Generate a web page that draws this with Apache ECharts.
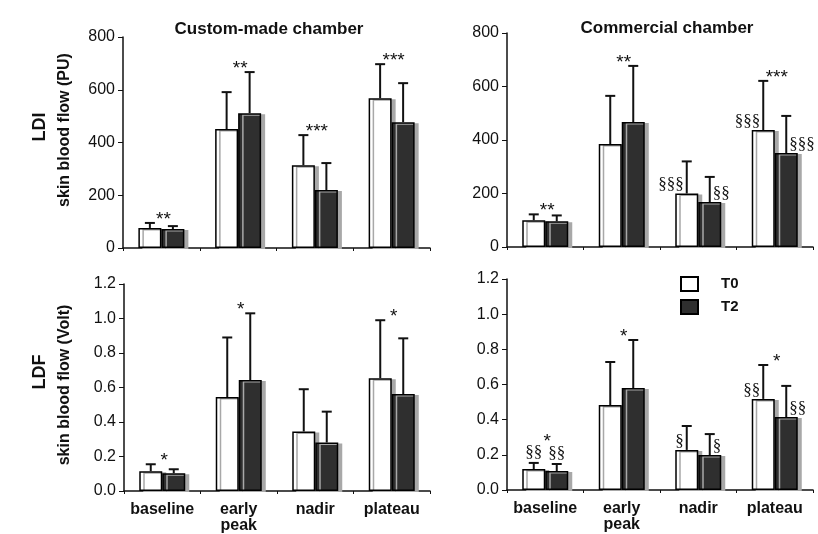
<!DOCTYPE html>
<html>
<head>
<meta charset="utf-8">
<script src="https://cdn.jsdelivr.net/npm/echarts/dist/echarts.min.js"></script>
<style>
    html, body { margin: 0; padding: 0; background: #fff; }
    #chart { width: 818px; height: 534px; }
</style>
</head>
<body>
<div id="chart"></div>
<script>
    // categories
    const phases = ['baseline', 'early\npeak', 'nadir', 'plateau'];
    const ldiTicks = [0, 200, 400, 600, 800];
    const ldfTicks = ['0.0', '0.2', '0.4', '0.6', '0.8', '1.0', '1.2'];

    // LDI, custom-made chamber (PU)
    const ldiCustomT0 = [76, 451, 314, 568];
    const ldiCustomT0Sd = [19, 140, 114, 129];
    const ldiCustomT2 = [72, 511, 220, 477];
    const ldiCustomT2Sd = [11, 156, 102, 148];
    // LDI, commercial chamber (PU)
    const ldiCommT0 = [100, 385, 200, 437];
    const ldiCommT0Sd = [22, 180, 120, 184];
    const ldiCommT2 = [96, 467, 168, 351];
    const ldiCommT2Sd = [22, 210, 94, 139];
    // LDF, custom-made chamber (Volt)
    const ldfCustomT0 = [0.115, 0.545, 0.345, 0.654];
    const ldfCustomT0Sd = [0.04, 0.345, 0.245, 0.336];
    const ldfCustomT2 = [0.103, 0.643, 0.281, 0.562];
    const ldfCustomT2Sd = [0.023, 0.387, 0.179, 0.323];
    // LDF, commercial chamber (Volt)
    const ldfCommT0 = [0.119, 0.483, 0.228, 0.518];
    const ldfCommT0Sd = [0.035, 0.245, 0.136, 0.193];
    const ldfCommT2 = [0.108, 0.58, 0.199, 0.415];
    const ldfCommT2Sd = [0.04, 0.273, 0.119, 0.177];

    // significance marks
    const ldiCustomStars = ['**', '**', '***', '***'];
    const ldiCommStars = ['**', '**', '', '***'];
    const ldiCommSecT0 = ['', '', '§§§', '§§§'];
    const ldiCommSecT2 = ['', '', '§§', '§§§'];
    const ldfCustomStars = ['*', '*', '', '*'];
    const ldfCommStars = ['*', '*', '', '*'];
    const ldfCommSecT0 = ['§§', '', '§', '§§'];
    const ldfCommSecT2 = ['§§', '', '§', '§§'];
    const none = ['', '', '', ''];

    const BAR_W = 23;
    const INK = '#111';

    var chart = echarts.init(document.getElementById('chart'));

    function xAxis(gi, showLabel) {
        return {
            type: 'category',
            gridIndex: gi,
            data: phases,
            axisLine: {lineStyle: {color: INK, width: 1.5}},
            axisTick: {show: true, length: 3, lineStyle: {color: INK}},
            axisLabel: {
                show: showLabel,
                interval: 0,
                color: INK,
                fontWeight: 'bold',
                fontSize: 16,
                fontFamily: 'Liberation Sans',
                lineHeight: 16,
                margin: 11
            },
            splitLine: {show: false}
        };
    }

    function yAxis(gi, max, interval, decimals) {
        return {
            type: 'value',
            gridIndex: gi,
            min: 0,
            max: max,
            interval: interval,
            axisLine: {show: true, lineStyle: {color: INK, width: 1.5}},
            axisTick: {show: true, length: 5, lineStyle: {color: INK}},
            axisLabel: {
                color: INK,
                fontSize: 16,
                fontFamily: 'Liberation Sans',
                margin: 8,
                formatter: function (v) { return decimals ? v.toFixed(decimals) : String(v); }
            },
            splitLine: {show: false}
        };
    }

    function bars(gi, name, data, color) {
        return {
            name: name,
            type: 'bar',
            xAxisIndex: gi,
            yAxisIndex: gi,
            data: data,
            barWidth: BAR_W,
            barGap: '0%',
            itemStyle: {
                color: color,
                borderColor: '#000',
                borderWidth: 1.5,
                shadowColor: '#a8a8a8',
                shadowOffsetX: 4,
                shadowOffsetY: 1,
                shadowBlur: 0
            },
            emphasis: {disabled: true}
        };
    }

    function txt(x, y, s, align, vAlign, font) {
        return {
            type: 'text',
            x: x, y: y,
            style: {
                text: s, fill: INK, font: font,
                align: align, verticalAlign: vAlign,
                textAlign: align, textVerticalAlign: vAlign
            }
        };
    }

    // error bars (upper only) plus the marks of significance
    function errors(gi, t0, t0Sd, t2, t2Sd, stars, sec0, sec2) {
        return {
            type: 'custom',
            xAxisIndex: gi,
            yAxisIndex: gi,
            z: 5,
            silent: true,
            data: t0.map(function (v, i) { return [i, v, v + t0Sd[i], t2[i], t2[i] + t2Sd[i]]; }),
            renderItem: function (params, api) {
                var i = api.value(0);
                var cx = api.coord([i, 0])[0];
                var half = BAR_W / 2;
                var children = [];
                var tops = [];
                [[1, 2, -half], [3, 4, half]].forEach(function (p) {
                    var x = cx + p[2];
                    var yb = api.coord([i, api.value(p[0])])[1];
                    var yt = api.coord([i, api.value(p[1])])[1];
                    tops.push({x: x, yb: yb, yt: yt});
                    children.push({type: 'line', shape: {x1: x, y1: yb, x2: x, y2: yt}, style: {stroke: INK, lineWidth: 2}});
                    children.push({type: 'line', shape: {x1: x - 5, y1: yt, x2: x + 5, y2: yt}, style: {stroke: INK, lineWidth: 2}});
                });
                var secFont = '17px "Liberation Serif"';
                var topY = Math.min(tops[0].yt, tops[1].yt);
                // baseline marks sit above the short error bars
                var above = (sec0[i] || sec2[i]) && i === 0;
                if (above) {
                    if (sec0[i]) children.push(txt(tops[0].x, tops[0].yt - 2, sec0[i], 'center', 'bottom', secFont));
                    if (sec2[i]) children.push(txt(tops[1].x, tops[1].yt - 2, sec2[i], 'center', 'bottom', secFont));
                    topY -= 18;
                } else {
                    if (sec0[i]) children.push(txt(tops[0].x - 3, tops[0].yb, sec0[i], 'right', 'bottom', secFont));
                    if (sec2[i]) children.push(txt(tops[1].x + 3, tops[1].yb, sec2[i], 'left', 'bottom', secFont));
                }
                if (stars[i]) {
                    children.push(txt(cx + 2, topY + 6, stars[i], 'center', 'bottom', '19px "Liberation Sans"'));
                }
                return {type: 'group', children: children};
            }
        };
    }

    function vName(x, y, s, size) {
        return {
            type: 'text',
            x: x, y: y,
            rotation: Math.PI / 2,
            style: {
                text: s, fill: INK,
                font: 'bold ' + size + 'px "Liberation Sans"',
                align: 'center', verticalAlign: 'middle',
                textAlign: 'center', textVerticalAlign: 'middle'
            }
        };
    }

    var option = {
        animation: false,
        backgroundColor: '#fff',
        title: [
            {text: 'Custom-made chamber', left: 264, top: 16, textAlign: 'center',
                textStyle: {fontSize: 17, fontWeight: 'bold', color: INK, fontFamily: 'Liberation Sans'}},
            {text: 'Commercial chamber', left: 662, top: 15, textAlign: 'center',
                textStyle: {fontSize: 17, fontWeight: 'bold', color: INK, fontFamily: 'Liberation Sans'}}
        ],
        legend: {
            data: ['T0', 'T2'],
            orient: 'vertical',
            left: 675,
            top: 271,
            icon: 'rect',
            itemWidth: 17,
            itemHeight: 14,
            itemGap: 7,
            selectedMode: false,
            textStyle: {fontSize: 15, fontWeight: 'bold', color: INK, fontFamily: 'Liberation Sans', padding: [0, 0, 0, 18]}
        },
        graphic: [
            vName(40, 127, 'LDI', 18),
            vName(65, 130, 'skin blood flow (PU)', 16),
            vName(40, 372, 'LDF', 18),
            vName(65, 385, 'skin blood flow (Volt)', 16)
        ],
        grid: [
            {left: 123, top: 37, width: 307, height: 211},
            {left: 507, top: 33, width: 306, height: 214},
            {left: 124, top: 284, width: 306, height: 209},
            {left: 507, top: 279, width: 306, height: 211}
        ],
        xAxis: [xAxis(0, false), xAxis(1, false), xAxis(2, true), xAxis(3, true)],
        yAxis: [
            yAxis(0, ldiTicks[ldiTicks.length - 1], 200, 0),
            yAxis(1, ldiTicks[ldiTicks.length - 1], 200, 0),
            yAxis(2, parseFloat(ldfTicks[ldfTicks.length - 1]), 0.2, 1),
            yAxis(3, parseFloat(ldfTicks[ldfTicks.length - 1]), 0.2, 1)
        ],
        series: [
            bars(0, 'T0', ldiCustomT0, '#ffffff'),
            bars(0, 'T2', ldiCustomT2, '#2f2f2f'),
            errors(0, ldiCustomT0, ldiCustomT0Sd, ldiCustomT2, ldiCustomT2Sd, ldiCustomStars, none, none),
            bars(1, 'T0', ldiCommT0, '#ffffff'),
            bars(1, 'T2', ldiCommT2, '#2f2f2f'),
            errors(1, ldiCommT0, ldiCommT0Sd, ldiCommT2, ldiCommT2Sd, ldiCommStars, ldiCommSecT0, ldiCommSecT2),
            bars(2, 'T0', ldfCustomT0, '#ffffff'),
            bars(2, 'T2', ldfCustomT2, '#2f2f2f'),
            errors(2, ldfCustomT0, ldfCustomT0Sd, ldfCustomT2, ldfCustomT2Sd, ldfCustomStars, none, none),
            bars(3, 'T0', ldfCommT0, '#ffffff'),
            bars(3, 'T2', ldfCommT2, '#2f2f2f'),
            errors(3, ldfCommT0, ldfCommT0Sd, ldfCommT2, ldfCommT2Sd, ldfCommStars, ldfCommSecT0, ldfCommSecT2)
        ]
    };

    chart.setOption(option);
</script>
</body>
</html>
